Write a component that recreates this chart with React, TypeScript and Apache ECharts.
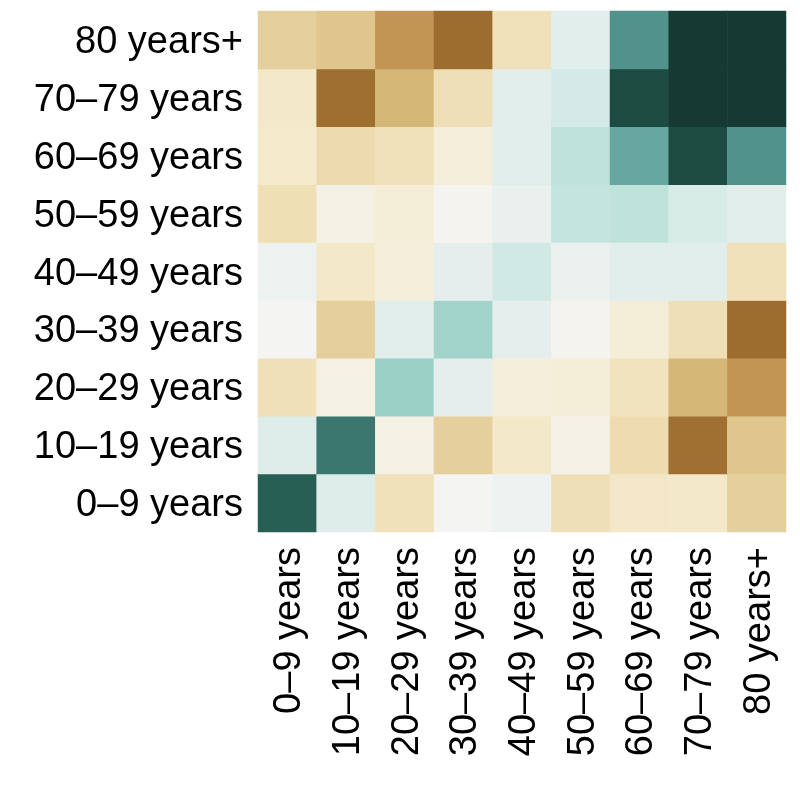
import React, { useEffect, useRef } from "react";
import * as echarts from "echarts";

const ageGroups = [
  "0–9 years",
  "10–19 years",
  "20–29 years",
  "30–39 years",
  "40–49 years",
  "50–59 years",
  "60–69 years",
  "70–79 years",
  "80 years+",
];

// rows listed from the bottom (0–9) to the top (80+); columns 0–9 .. 80+
const row0to9 = [0.88, 0.1, -0.2, 0.0, 0.03, -0.22, -0.13, -0.12, -0.4];
const row10to19 = [0.1, 0.78, -0.04, -0.4, -0.12, -0.03, -0.26, -0.96, -0.47];
const row20to29 = [-0.21, -0.04, 0.39, 0.07, -0.06, -0.07, -0.18, -0.58, -0.75];
const row30to39 = [0.0, -0.4, 0.08, 0.37, 0.07, -0.01, -0.07, -0.22, -0.98];
const row40to49 = [0.03, -0.12, -0.06, 0.07, 0.19, 0.04, 0.08, 0.08, -0.2];
const row50to59 = [-0.23, -0.04, -0.07, -0.01, 0.05, 0.25, 0.27, 0.15, 0.08];
const row60to69 = [-0.1, -0.27, -0.2, -0.06, 0.08, 0.27, 0.58, 0.95, 0.67];
const row70to79 = [-0.12, -0.97, -0.58, -0.22, 0.08, 0.16, 0.95, 1.0, 1.0];
const row80plus = [-0.4, -0.47, -0.75, -0.98, -0.2, 0.08, 0.67, 1.0, 1.0];

const rows = [
  row0to9,
  row10to19,
  row20to29,
  row30to39,
  row40to49,
  row50to59,
  row60to69,
  row70to79,
  row80plus,
];

// evenly spaced stops from -1 to 1 (step 0.1)
const palette = [
  "#9a6a2d",
  "#aa7a3b",
  "#bb8c4c",
  "#c89d5d",
  "#d3b473",
  "#dcc287",
  "#e5cf9c",
  "#ebd9aa",
  "#f0e1ba",
  "#f4eacc",
  "#f4f4f2",
  "#deecea",
  "#cfe9e3",
  "#b8dfd8",
  "#98cec5",
  "#7cbab1",
  "#5fa39b",
  "#4b8b83",
  "#377269",
  "#235a50",
  "#163a31",
];

export default function App() {
  const ref = useRef<HTMLDivElement>(null);

  useEffect(() => {
    if (!ref.current) return;
    const chart = echarts.init(ref.current, undefined, { renderer: "svg" });
    const data: [number, number, number][] = [];
    rows.forEach((row, y) => {
      row.forEach((v, x) => data.push([x, y, v]));
    });
    const font = "'Liberation Sans', Arial, Helvetica, sans-serif";
    chart.setOption({
      animation: false,
      grid: { left: 258, top: 11, width: 528, height: 521 },
      xAxis: {
        type: "category",
        data: ageGroups,
        axisLine: { show: false },
        axisTick: { show: false },
        splitLine: { show: false },
        axisLabel: {
          rotate: 90,
          interval: 0,
          margin: 15,
          fontSize: 38,
          color: "#000",
          fontFamily: font,
        },
      },
      yAxis: {
        type: "category",
        data: ageGroups,
        axisLine: { show: false },
        axisTick: { show: false },
        splitLine: { show: false },
        axisLabel: {
          interval: 0,
          margin: 15,
          fontSize: 38,
          color: "#000",
          fontFamily: font,
        },
      },
      visualMap: {
        show: false,
        type: "continuous",
        min: -1,
        max: 1,
        dimension: 2,
        inRange: { color: palette },
      },
      series: [
        {
          type: "heatmap",
          data,
          itemStyle: { borderWidth: 0 },
          emphasis: { disabled: true },
        },
      ],
    });
    return () => chart.dispose();
  }, []);

  return (
    <div
      ref={ref}
      style={{ position: "fixed", left: 0, top: 0, width: 800, height: 798 }}
    />
  );
}
